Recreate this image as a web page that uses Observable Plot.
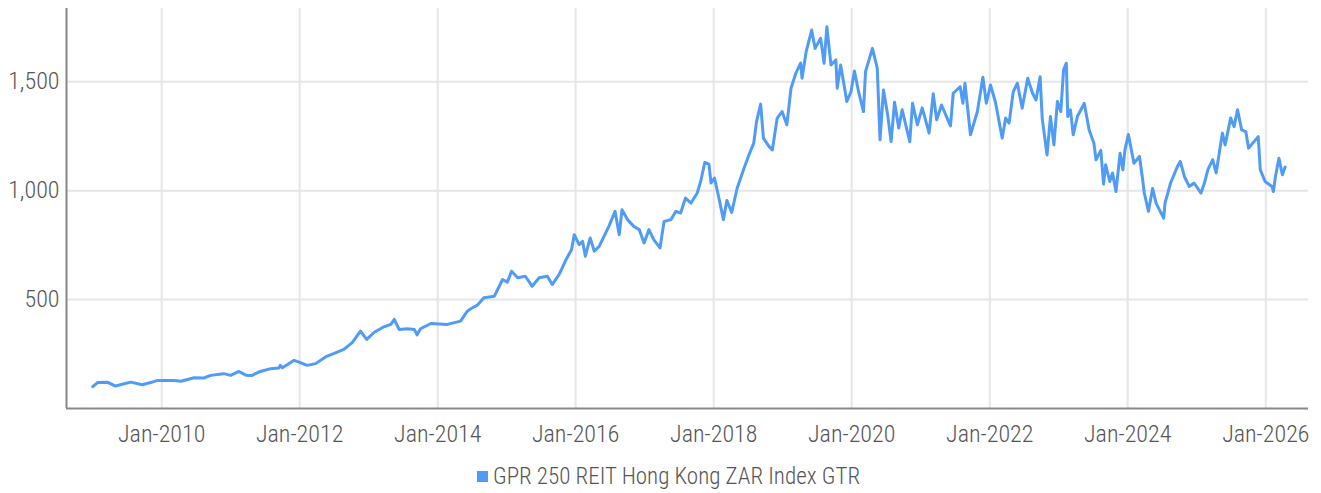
<!DOCTYPE html>
<html>
<head>
<meta charset="utf-8">
<script src="https://cdn.jsdelivr.net/npm/d3@7"></script>
<script src="https://cdn.jsdelivr.net/npm/@observablehq/plot@0.6"></script>
<style>
  html, body { margin: 0; padding: 0; background: #fff; }
  #chart { width: 1321px; }
  .legend { width: 1321px; display: flex; justify-content: center; align-items: center; margin-top: 8px;
    font-family: "Roboto Condensed", "Roboto", sans-serif; font-weight: 300; font-size: 23px; color: #555; }
  .legend .sw { width: 11px; height: 11px; background: #4f9bf5; margin-right: 5px; margin-left: 16px; }
</style>
</head>
<body>
<div id="chart"></div>
<div class="legend"><span class="sw"></span><span>GPR 250 REIT Hong Kong ZAR Index GTR</span></div>
<script>
// Decimal-year positions and index values
const years = [
  2009.00, 2009.07, 2009.21, 2009.33, 2009.55, 2009.72, 2009.84, 2009.94,
  2010.18, 2010.28, 2010.47, 2010.61, 2010.71, 2010.90,
  2011.00, 2011.12, 2011.22, 2011.31, 2011.43, 2011.58, 2011.70, 2011.72, 2011.75, 2011.92, 2011.99,
  2012.11, 2012.23, 2012.38, 2012.50, 2012.64, 2012.76, 2012.88, 2012.97,
  2013.08, 2013.22, 2013.32, 2013.37, 2013.44, 2013.56, 2013.66, 2013.70, 2013.75, 2013.90,
  2014.14, 2014.33, 2014.43, 2014.48, 2014.57, 2014.67, 2014.82, 2014.94,
  2015.01, 2015.07, 2015.16, 2015.27, 2015.37, 2015.47, 2015.59, 2015.66, 2015.76, 2015.86, 2015.94, 2015.98,
  2016.05, 2016.10, 2016.14, 2016.21, 2016.27, 2016.34, 2016.41, 2016.48, 2016.57, 2016.63, 2016.67, 2016.75, 2016.84, 2016.92, 2016.99,
  2017.06, 2017.13, 2017.22, 2017.28, 2017.38, 2017.45, 2017.52, 2017.59, 2017.67, 2017.76, 2017.81, 2017.87, 2017.93, 2017.96,
  2018.01, 2018.07, 2018.14, 2018.19, 2018.26, 2018.34, 2018.44, 2018.51, 2018.58, 2018.62, 2018.68, 2018.72, 2018.80, 2018.85, 2018.92, 2018.99,
  2019.06, 2019.12, 2019.19, 2019.26, 2019.28, 2019.34, 2019.42, 2019.47, 2019.55, 2019.60, 2019.64, 2019.70, 2019.77, 2019.79, 2019.84, 2019.93, 2019.99,
  2020.04, 2020.10, 2020.17, 2020.20, 2020.30, 2020.37, 2020.41, 2020.46, 2020.52, 2020.57, 2020.62, 2020.68, 2020.73, 2020.84, 2020.88, 2020.95,
  2021.02, 2021.12, 2021.18, 2021.23, 2021.30, 2021.43, 2021.47, 2021.57, 2021.61, 2021.64, 2021.72, 2021.82, 2021.90, 2021.95,
  2022.01, 2022.08, 2022.18, 2022.23, 2022.28, 2022.34, 2022.40, 2022.47, 2022.55, 2022.62, 2022.67, 2022.73, 2022.76, 2022.83, 2022.88, 2022.93, 2022.98,
  2023.03, 2023.07, 2023.11, 2023.13, 2023.17, 2023.21, 2023.27, 2023.37, 2023.44, 2023.51, 2023.54, 2023.61, 2023.65, 2023.68, 2023.74, 2023.78, 2023.83, 2023.89, 2023.93, 2023.96,
  2024.01, 2024.09, 2024.17, 2024.21, 2024.24, 2024.30, 2024.36, 2024.41, 2024.47, 2024.52, 2024.54, 2024.62, 2024.72, 2024.76, 2024.82, 2024.89, 2024.96,
  2025.06, 2025.11, 2025.16, 2025.23, 2025.28, 2025.37, 2025.41, 2025.49, 2025.54, 2025.59, 2025.65, 2025.71, 2025.75, 2025.89, 2025.92, 2025.99,
  2026.09, 2026.11, 2026.14, 2026.19, 2026.24, 2026.28
];
const values = [
  100, 119, 121, 103, 121, 109, 119, 129,
  129, 125, 141, 140, 152, 160,
  152, 170, 153, 152, 170, 183, 186, 198, 187, 221, 213,
  198, 206, 238, 253, 271, 302, 355, 317,
  350, 375, 386, 409, 363, 366, 363, 338, 366, 390,
  386, 401, 447, 458, 473, 508, 515, 592,
  580, 630, 600, 607, 561, 600, 607, 569, 615, 683, 729, 798,
  752, 767, 699, 783, 722, 744, 790, 836, 905, 798, 912, 867, 836, 821, 760,
  821, 775, 737, 859, 867, 905, 897, 966, 943, 989, 1042, 1129, 1122, 1035,
  1058, 973, 867, 955, 900, 1012, 1104, 1164, 1218, 1317, 1397, 1241, 1203, 1187, 1333, 1363,
  1302, 1470, 1539, 1585, 1516, 1638, 1737, 1653, 1699, 1585, 1752, 1577, 1600, 1470, 1577, 1409, 1454,
  1549, 1454, 1363, 1546, 1653, 1562, 1233, 1462, 1348, 1225, 1406, 1287, 1371, 1225, 1401, 1302,
  1380, 1264, 1445, 1325, 1393, 1297, 1447, 1477, 1401, 1493, 1256, 1363, 1520, 1401,
  1485, 1409, 1241, 1333, 1310, 1454, 1493, 1378, 1516, 1447, 1416, 1523, 1333, 1164, 1340, 1210, 1409,
  1363, 1554, 1585, 1340, 1371, 1256, 1340, 1401, 1279, 1218, 1142, 1185, 1030, 1119, 1042, 1081, 996, 1172, 1096, 1187,
  1258, 1126, 1157, 1065, 989, 905, 1010, 943, 905, 874, 943, 1035, 1111, 1134, 1065, 1019, 1035,
  989, 1035, 1096, 1142, 1081, 1264, 1210, 1333, 1294, 1371, 1279, 1271, 1195, 1248, 1096, 1042,
  1019, 996, 1065, 1149, 1073, 1108
];
const xTickYears = [2010, 2012, 2014, 2016, 2018, 2020, 2022, 2024, 2026];
const yTicks = [500, 1000, 1500];
const seriesName = "GPR 250 REIT Hong Kong ZAR Index GTR";

const toDate = y => {
  const yr = Math.floor(y);
  const s = Date.UTC(yr, 0, 1), e = Date.UTC(yr + 1, 0, 1);
  return new Date(s + (y - yr) * (e - s));
};
const data = years.map((y, i) => ({date: toDate(y), value: values[i]}));
const xTicks = xTickYears.map(y => new Date(Date.UTC(y, 0, 1)));
const x0 = new Date(Date.UTC(2008, 7, 15)), x1 = new Date(Date.UTC(2026, 7, 15));

const font = `"Roboto Condensed", "Roboto", sans-serif`;
const chart = Plot.plot({
  width: 1321,
  height: 455,
  marginTop: 8,
  marginBottom: 47,
  marginLeft: 66,
  marginRight: 13,
  style: {fontFamily: font, fontWeight: 300, color: "#555", background: "#fff"},
  x: {type: "utc", domain: [x0, x1]},
  y: {domain: [0, 1836]},
  marks: [
    Plot.gridX(xTicks, {stroke: "#e6e6e6", strokeOpacity: 1, strokeWidth: 2}),
    Plot.gridY(yTicks, {stroke: "#e6e6e6", strokeOpacity: 1, strokeWidth: 2}),
    Plot.line(data, {x: "date", y: "value", stroke: "#4f9bf5", strokeWidth: 3, strokeLinejoin: "round"}),
    Plot.ruleX([x0], {stroke: "#888", strokeWidth: 2}),
    Plot.ruleY([0], {stroke: "#888", strokeWidth: 2}),
    Plot.axisX(xTicks, {tickSize: 0, tickPadding: 16, fontSize: 24, tickFormat: d => "Jan-" + d.getUTCFullYear(), label: null}),
    Plot.axisY(yTicks, {tickSize: 0, tickPadding: 7, fontSize: 24, tickFormat: d3.format(","), label: null})
  ]
});
chart.setAttribute("aria-label", seriesName);
document.getElementById("chart").append(chart);
</script>
</body>
</html>
